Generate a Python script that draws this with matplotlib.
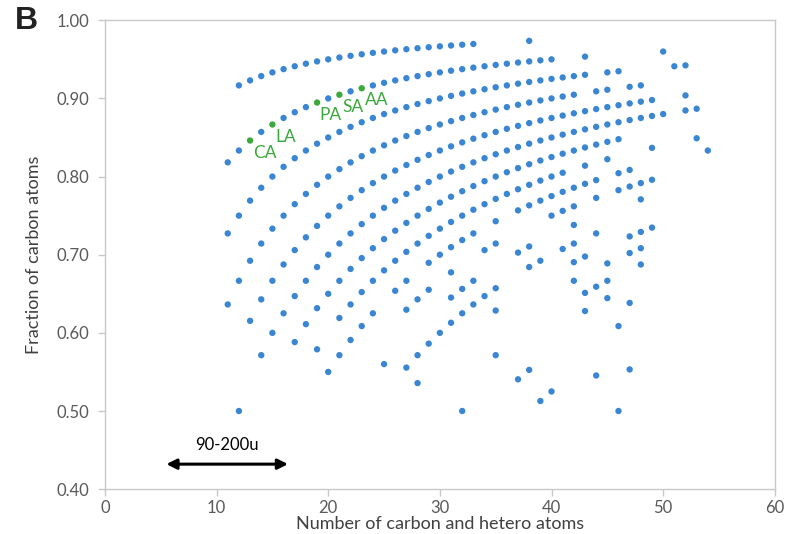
import matplotlib
matplotlib.use("Agg")
import matplotlib.pyplot as plt

# total atoms (carbon + hetero) of each compound, grouped by its number of hetero atoms
hetero_1 = [12, 13, 14, 15, 16, 17, 18, 19, 20, 21, 22, 23, 24, 25, 26, 27, 28, 29, 30, 31, 32, 33, 38]
hetero_2 = [11, 12, 14, 16, 17, 18, 20, 22, 24, 25, 26, 27, 28, 29, 30, 31, 32, 33, 34, 35, 36, 37, 38, 39, 40, 43, 50]
hetero_3 = [11, 12, 13, 14, 15, 16, 17, 18, 19, 20, 21, 22, 23, 24, 25, 26, 27, 28, 29, 30, 31, 32, 33, 34, 35, 36, 37, 38,
            39, 40, 41, 42, 43, 45, 46, 51, 52]
hetero_4 = [11, 12, 13, 14, 15, 16, 17, 18, 19, 20, 21, 22, 23, 24, 25, 26, 27, 28, 29, 30, 31, 32, 33, 34, 35, 36, 37, 38,
            39, 40, 41, 42, 44, 45, 47, 48]
hetero_5 = [13, 14, 15, 16, 17, 18, 19, 20, 21, 22, 23, 24, 25, 26, 27, 28, 29, 30, 31, 32, 33, 34, 35, 36, 37, 38, 39, 40,
            41, 42, 43, 44, 45, 46, 47, 48, 49, 52]
hetero_6 = [12, 14, 15, 16, 17, 18, 19, 20, 21, 22, 23, 24, 25, 26, 27, 28, 29, 30, 31, 32, 33, 34, 35, 36, 37, 38, 39, 40,
            41, 42, 43, 44, 45, 46, 47, 48, 49, 50, 52, 53]
hetero_7 = [17, 18, 19, 20, 21, 22, 23, 24, 25, 26, 27, 28, 29, 30, 31, 32, 33, 34, 35, 36, 37, 38, 39, 40, 41, 42, 43, 44,
            45, 46]
hetero_8 = [19, 21, 22, 23, 24, 25, 26, 27, 28, 29, 30, 31, 32, 33, 34, 35, 36, 37, 38, 39, 40, 41, 43, 45, 49, 53]
hetero_9 = [20, 21, 22, 23, 24, 26, 27, 29, 30, 31, 32, 33, 35, 37, 38, 39, 40, 41, 42, 43, 44, 46, 47, 54]
hetero_10 = [27, 28, 29, 31, 34, 35, 40, 41, 42, 44, 46, 47, 48, 49]
hetero_11 = [25, 31, 32, 33, 37, 38, 42, 48]
hetero_12 = [27, 28, 29, 30, 31, 32, 33, 34, 35, 38, 39, 41, 42, 44]
hetero_13 = [28, 35, 42, 43, 47, 48, 49]
hetero_14 = [42, 45, 47, 48]
hetero_15 = [35, 43, 44, 45, 48]
hetero_16 = [32, 43, 45]
hetero_17 = [37, 38, 47]
hetero_18 = [46]
hetero_19 = [39, 40]
hetero_20 = [44]
hetero_21 = [47]
hetero_23 = [46]

# fatty acids highlighted in green (two oxygens each)
acid_names = ["CA", "LA", "PA", "SA", "AA"]
acid_atoms = [13, 15, 19, 21, 23]
acid_hetero = [2, 2, 2, 2, 2]

groups = {1: hetero_1, 2: hetero_2, 3: hetero_3, 4: hetero_4, 5: hetero_5, 6: hetero_6,
          7: hetero_7, 8: hetero_8, 9: hetero_9, 10: hetero_10, 11: hetero_11, 12: hetero_12,
          13: hetero_13, 14: hetero_14, 15: hetero_15, 16: hetero_16, 17: hetero_17, 18: hetero_18,
          19: hetero_19, 20: hetero_20, 21: hetero_21, 23: hetero_23}

xs, ys = [], []
for h, totals in groups.items():
    for n in totals:
        xs.append(n)
        ys.append((n - h) / n)   # fraction of carbon atoms

blue = "#3a86d2"
green = "#3aa83a"
grey = "#595959"

plt.rcParams['font.family'] = ['Lato', 'DejaVu Sans']

fig = plt.figure(figsize=(7.89, 5.34), dpi=100)
ax = fig.add_axes([0.133, 0.084, 0.849, 0.878])

ax.scatter(xs, ys, s=21, color=blue, edgecolors='none', zorder=3)

acid_y = [(n - h) / n for n, h in zip(acid_atoms, acid_hetero)]
ax.scatter(acid_atoms, acid_y, s=21, color=green, edgecolors='none', zorder=4)
for name, n, f in zip(acid_names, acid_atoms, acid_y):
    ax.annotate(name, (n, f), xytext=(2, -3), textcoords='offset points',
                ha='left', va='top', color=green, fontsize=12.5)

# mass range arrow
ax.annotate('', xy=(5.5, 0.432), xytext=(16.4, 0.432),
            arrowprops=dict(arrowstyle='<|-|>', color='black', lw=2.2,
                            mutation_scale=15, shrinkA=0, shrinkB=0))
ax.text(10.9, 0.456, '90-200u', ha='center', va='center', fontsize=12, color='black')

ax.set_xlim(0, 60)
ax.set_ylim(0.40, 1.00)
ax.set_xticks([0, 10, 20, 30, 40, 50, 60])
ax.set_yticks([0.40, 0.50, 0.60, 0.70, 0.80, 0.90, 1.00])
ax.set_yticklabels([f"{v:.2f}" for v in ax.get_yticks()])

for sp in ax.spines.values():
    sp.set_color('#c8c8c8')
    sp.set_linewidth(1.0)
ax.tick_params(axis='both', direction='out', length=5, width=1, color='#c8c8c8',
               labelcolor=grey, labelsize=12)
ax.tick_params(axis='x', pad=3)
ax.tick_params(axis='y', pad=6)

ax.set_xlabel('Number of carbon and hetero atoms', fontsize=13, color='#404040', labelpad=0)
ax.set_ylabel('Fraction of carbon atoms', fontsize=13, color='#404040', labelpad=11)

fig.text(0.019, 0.960, 'B', fontsize=23, fontweight='bold', family='Liberation Sans',
         ha='left', va='center', color='#222222')

fig.savefig('out.png', dpi=100)
